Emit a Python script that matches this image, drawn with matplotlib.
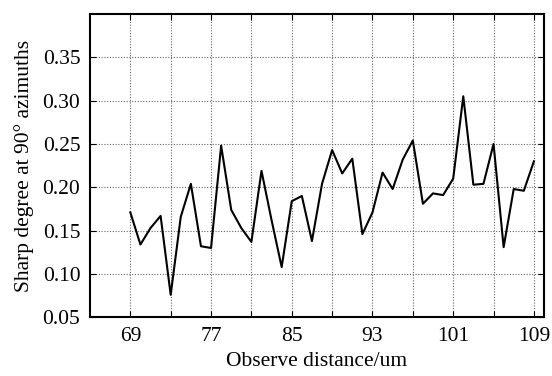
import numpy as np
from matplotlib import pyplot as plt

distance = np.arange(69, 110)
sharp_degree = [
    0.171, 0.134, 0.153, 0.167, 0.076, 0.166, 0.204, 0.132, 0.130, 0.248,
    0.174, 0.153, 0.137, 0.219, 0.162, 0.108, 0.184, 0.190, 0.138, 0.204,
    0.243, 0.216, 0.233, 0.146, 0.171, 0.217, 0.198, 0.232, 0.254, 0.181,
    0.193, 0.191, 0.210, 0.305, 0.203, 0.204, 0.250, 0.131, 0.198, 0.196,
    0.230,
]
x_ticks = list(range(69, 110, 4))
x_labels = [str(t) if (t - 69) % 8 == 0 else "" for t in x_ticks]
y_ticks = [0.05, 0.10, 0.15, 0.20, 0.25, 0.30, 0.35]

plt.rcParams["font.family"] = ["Liberation Serif", "DejaVu Serif"]

fig = plt.figure(figsize=(5.52, 3.76), dpi=100)
ax = fig.add_axes([0.163, 0.156, 0.8225, 0.807])
ax.plot(distance, sharp_degree, color="black", lw=1.5)

ax.set_xlim(65, 110)
ax.set_ylim(0.05, 0.40)
ax.set_xticks(x_ticks)
ax.set_xticklabels(x_labels)
ax.set_yticks(y_ticks)
ax.set_yticklabels([f"{v:.2f}" for v in y_ticks])
ax.grid(True, color="#666666", linestyle=(0, (1, 1.5)), lw=0.8)
ax.tick_params(direction="in", top=True, right=True, length=4, width=0.8,
               labelsize=15.5, pad=7)
for s in ax.spines.values():
    s.set_linewidth(1.5)

ax.set_xlabel("Observe distance/um", fontsize=15.5, labelpad=4)
ax.set_ylabel("Sharp degree at 90° azimuths", fontsize=15.5, labelpad=6)

fig.savefig("out.png", dpi=100)
